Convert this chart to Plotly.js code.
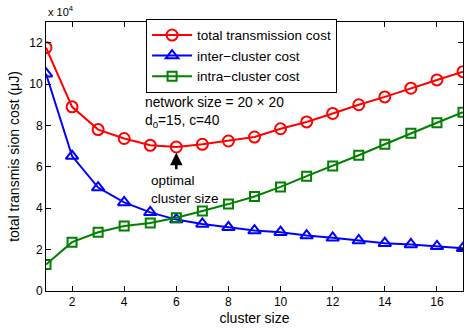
<!DOCTYPE html>
<html><head><meta charset="utf-8">
<script src="https://cdn.plot.ly/plotly-3.0.1.min.js"></script>
<style>html,body{margin:0;padding:0;background:#fff}</style>
</head><body>
<div id="chart" style="width:465px;height:330px"></div>
<script>
const clusterSize = [1,2,3,4,5,6,7,8,9,10,11,12,13,14,15,16,17];
// values in units of 1e4 uJ
const totalCost = [11.76,8.9,7.8,7.37,7.04,6.96,7.09,7.25,7.44,7.84,8.17,8.58,9.0,9.38,9.8,10.2,10.6];
const interCost = [10.5,6.52,5.0,4.28,3.8,3.45,3.24,3.08,2.92,2.84,2.68,2.57,2.44,2.31,2.25,2.16,2.07];
const intraCost = [1.28,2.36,2.84,3.14,3.29,3.54,3.87,4.2,4.57,5.03,5.55,6.04,6.56,7.09,7.62,8.13,8.64];
const seriesNames = ['total transmission cost','inter\u2212cluster cost','intra\u2212cluster cost'];
const xTicks = [2,4,6,8,10,12,14,16];
const yTicks = [0,2,4,6,8,10,12];

const mk = (y, name, color, symbol) => ({
  x: clusterSize, y: y, name: name, type: 'scatter', mode: 'lines+markers',
  line: {color: color, width: 2},
  marker: {symbol: symbol, size: symbol === 'square-open' ? 9 : 11, color: color, line: {color: color, width: 2}}
});
const data = [
  mk(totalCost, seriesNames[0], '#ff0000', 'circle-open'),
  mk(interCost, seriesNames[1], '#0000ff', 'triangle-up-open'),
  mk(intraCost, seriesNames[2], '#008000', 'square-open')
];
const font = {family: 'Liberation Sans, Arial, sans-serif', color: '#000'};
const f = s => Object.assign({size: s}, font);
const layout = {
  width: 465, height: 330,
  margin: {l: 46, r: 2, t: 22, b: 39},
  paper_bgcolor: '#fff', plot_bgcolor: '#fff',
  font: f(12),
  showlegend: true,
  legend: {x: 0.24, y: 1.012, xanchor: 'left', yanchor: 'top', bgcolor: '#fff',
    bordercolor: '#000', borderwidth: 1, font: f(13.5),
    tracegroupgap: 0, itemwidth: 40},
  xaxis: {range: [1, 17], tickvals: xTicks, ticks: 'inside', ticklen: 5, tickcolor: '#000',
    showline: true, linecolor: '#000', linewidth: 1, mirror: 'ticks', showgrid: false, zeroline: false,
    tickfont: f(12),
    title: {text: 'cluster size', font: f(14), standoff: 4}},
  yaxis: {range: [0, 13], tickvals: yTicks, ticks: 'inside', ticklen: 5, tickcolor: '#000',
    showline: true, linecolor: '#000', linewidth: 1, mirror: 'ticks', showgrid: false, zeroline: false,
    tickfont: f(12),
    title: {text: 'total transmis sion cost (\u03bcJ)', font: f(14), standoff: 6}},
  annotations: [
    {xref: 'paper', yref: 'paper', x: 0, y: 1, xanchor: 'left', yanchor: 'bottom', yshift: 2,
     text: 'x 10<sup>4</sup>', showarrow: false, font: f(11)},
    {xref: 'x', yref: 'y', x: 4.72, y: 8.64, xanchor: 'left', yanchor: 'middle', align: 'left',
     text: 'network size = 20 \u00d7 20<br>d<sub>0</sub>=15, c=40', showarrow: false, font: f(13.8)},
    {xref: 'x', yref: 'y', x: 6, y: 6.68, ax: 0, ay: 18, text: '', showarrow: true,
     arrowhead: 2, arrowsize: 1, arrowwidth: 2.5, arrowcolor: '#000'},
    {xref: 'x', yref: 'y', x: 4.94, y: 4.92, xanchor: 'left', yanchor: 'middle', align: 'left',
     text: 'optimal<br>cluster size', showarrow: false, font: f(13.5)}
  ]
};
Plotly.newPlot('chart', data, layout, {displayModeBar: false, staticPlot: true});
</script>
</body></html>
